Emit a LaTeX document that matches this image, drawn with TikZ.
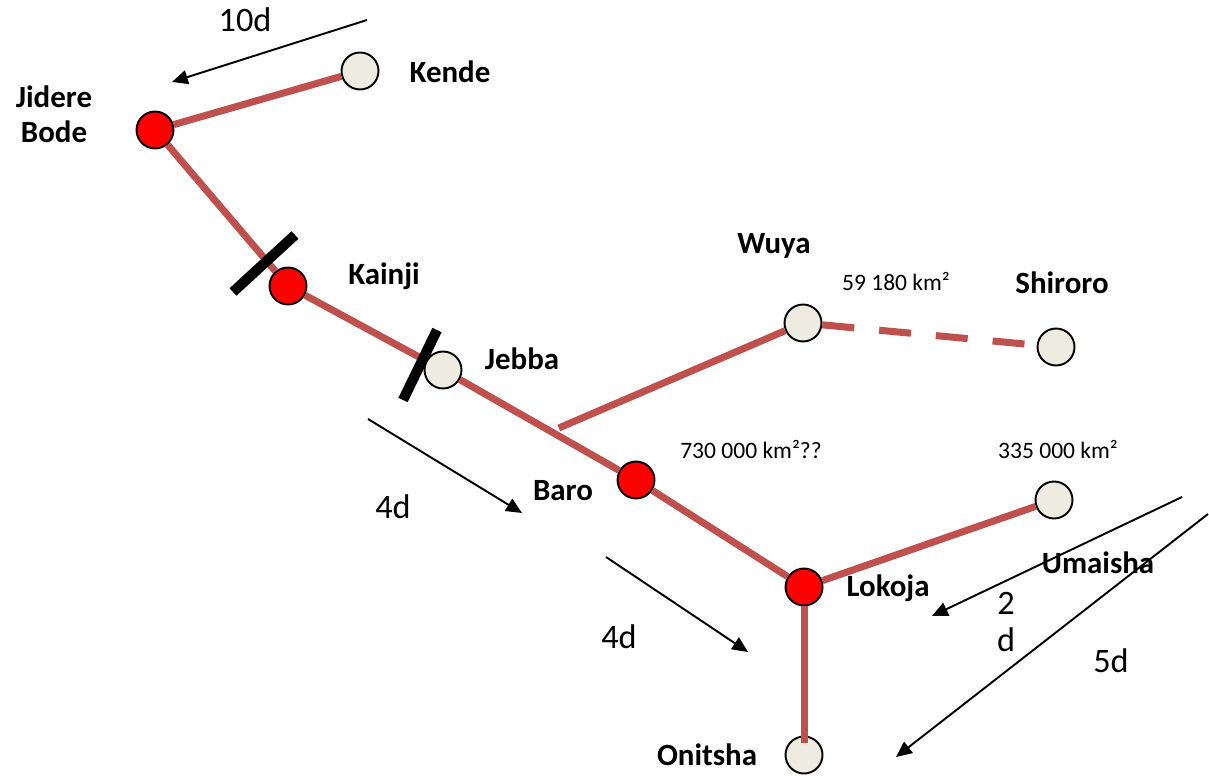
\documentclass[tikz,border=0pt]{standalone}
\usepackage{fontspec}
\setmainfont{Carlito}
\usetikzlibrary{calc,arrows.meta}

\definecolor{riverred}{HTML}{C0504D}
\definecolor{damred}{HTML}{FF0000}
\definecolor{stationgray}{HTML}{EEECE1}

\tikzset{
  station/.style={circle, draw=black, line width=1.1pt, fill=stationgray,
    minimum size=0.74cm, inner sep=0pt},
  dam/.style={station, fill=damred},
  river/.style={riverred, line width=4pt},
  barrage/.style={black, line width=5.8pt},
  flow/.style={black, line width=1.1pt, -{Triangle[length=9pt,width=8pt]}},
  place/.style={font=\fontsize{17.6}{20}\selectfont\bfseries, align=center},
  delay/.style={font=\fontsize{19.5}{23}\selectfont},
  area/.style={font=\fontsize{13.4}{16}\selectfont},
}

\begin{document}
\begin{tikzpicture}[x=0.02cm, y=-0.02cm]

\useasboundingbox (0,0) rectangle (1209,776);

% stations
\node[station] (Kende) at (360,71) {};
\node[dam] (Jidere) at (155,130) {};
\node[dam] (Kainji) at (288,286) {};
\node[station] (Jebba) at (443,370) {};
\node[dam] (Baro) at (636,480) {};
\node[dam] (Lokoja) at (804,587) {};
\node[station] (Onitsha) at (804,755) {};
\node[station] (Wuya) at (803,323) {};
\node[station] (Shiroro) at (1056,347) {};
\node[station] (Umaisha) at (1054,500) {};

% rivers
\coordinate (junction) at ($(Jebba)!0.6!(Baro) + (0,-8)$);
\draw[river] (Kende) -- (Jidere) -- (Kainji) -- (Jebba) -- (Baro) -- (Lokoja) -- (Umaisha);
\draw[river] (Wuya) -- (junction);
\draw[river, dash pattern=on 0.64cm off 0.5cm, shorten >=0.36cm] (Wuya) -- (Shiroro.center);
\draw[river, shorten >=7pt] (Lokoja) -- (Onitsha.center);

% barrages
\draw[barrage] (233,292) -- (295,235);
\draw[barrage] (403,400) -- (437,330);

% names
\node[place] (Kende-lbl) at (450,72) {Kende};
\node[place] (Jidere-lbl) at (54,114) {Jidere\\Bode};
\node[place] (Kainji-lbl) at (384,276) {Kainji};
\node[place] (Jebba-lbl) at (522,359) {Jebba};
\node[place] (Baro-lbl) at (563,491) {Baro};
\node[place] (Lokoja-lbl) at (888,588) {Lokoja};
\node[place] (Umaisha-lbl) at (1098,563) {Umaisha};
\node[place] (Onitsha-lbl) at (707,755) {Onitsha};
\node[place] (Wuya-lbl) at (774,246) {Wuya};
\node[place] (Shiroro-lbl) at (1062,283) {Shiroro};

% catchment areas
\node[area] (Wuya-area) at (896,282) {59 180 km²};
\node[area] (Baro-area) at (751,449) {730 000 km²??};
\node[area] (Umaisha-area) at (1058,449) {335 000 km²};

% travel times
\coordinate (t1s) at (367,20);   \coordinate (t1e) at (172,82);
\coordinate (t2s) at (368,419);  \coordinate (t2e) at (522,513);
\coordinate (t3s) at (606,557);  \coordinate (t3e) at (748,652);
\coordinate (t4s) at (1182,497); \coordinate (t4e) at (932,616);
\coordinate (t5s) at (1208,514); \coordinate (t5e) at (896,757);
\draw[flow] (t1s) -- (t1e);
\draw[flow] (t2s) -- (t2e);
\draw[flow] (t3s) -- (t3e);
\draw[flow] (t4s) -- (t4e);
\draw[flow] (t5s) -- (t5e);

\node[delay] (t1-lbl) at (245,20) {10d};
\node[delay] (t2-lbl) at (393,507) {4d};
\node[delay] (t3-lbl) at (619,637) {4d};
\node[delay, align=center] (t4-lbl) at (1006,622) {2\\[-0.1em]d};
\node[delay] (t5-lbl) at (1111,661) {5d};

\end{tikzpicture}
\end{document}
